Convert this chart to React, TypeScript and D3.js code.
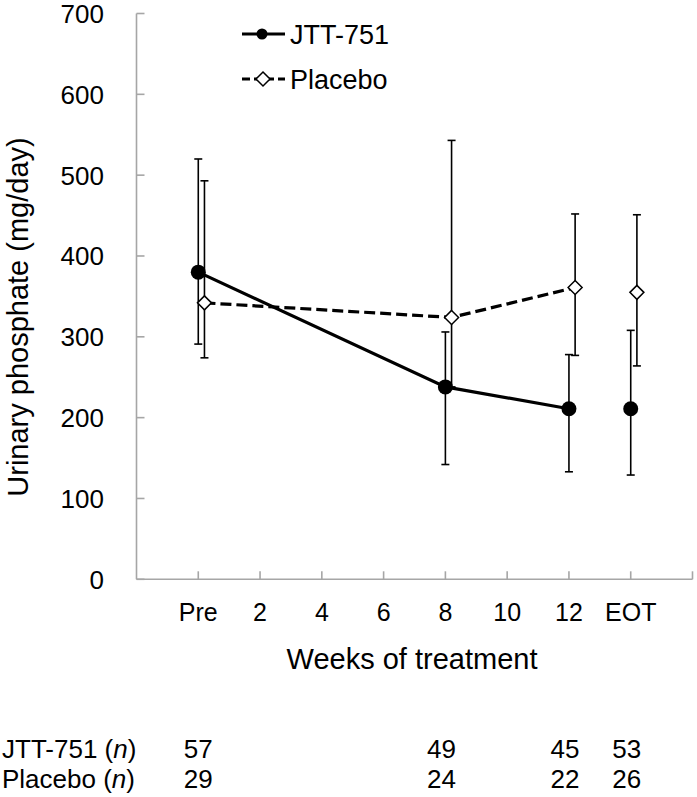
import React from "react";
import * as d3 from "d3";

// ---- data ----
const tickWeeks = [0, 2, 4, 6, 8, 10, 12, 14];
const tickLabels = ["Pre", "2", "4", "6", "8", "10", "12", "EOT"];
const yTicks = [0, 100, 200, 300, 400, 500, 600, 700];

const timeWeeks = [0, 8, 12, 14]; // Pre, 8, 12, EOT
const lineConnected = [true, true, true, false];

const jttMean = [380, 238, 211, 211];
const jttUpper = [520, 306, 278, 308];
const jttLower = [291, 142, 133, 129];

const placeboMean = [342, 324, 361, 355];
const placeboUpper = [493, 543, 452, 451];
const placeboLower = [274, 238, 277, 264];

const jttN = [57, 49, 45, 53];
const placeboN = [29, 24, 22, 26];

const FONT = "'Liberation Sans', Arial, sans-serif";

export default function App() {
  const W = 697;
  const H = 797;
  const x = d3.scaleLinear().domain([-2, 16]).range([136.5, 692.5]);
  const y = d3.scaleLinear().domain([0, 700]).range([579.3, 13.5]);
  const placeboShift = 0.2; // weeks offset so bars don't overlap

  const axisColor = "#a6a6a6";

  const lineGen = d3
    .line<number>()
    .x((d) => d[0])
    .y((d) => d[1]);

  const jttPts = timeWeeks
    .map((t, i) => [x(t), y(jttMean[i])] as [number, number])
    .filter((_, i) => lineConnected[i]);
  const plPts = timeWeeks
    .map((t, i) => [x(t + placeboShift), y(placeboMean[i])] as [number, number])
    .filter((_, i) => lineConnected[i]);

  const diamond = (cx: number, cy: number, r: number) =>
    `M${cx},${cy - r}L${cx + r},${cy}L${cx},${cy + r}L${cx - r},${cy}Z`;

  const errBar = (cx: number, lo: number, hi: number, key: string) => (
    <g key={key} stroke="#000" strokeWidth={1.6} fill="none">
      <line x1={cx} x2={cx} y1={y(hi)} y2={y(lo)} />
      <line x1={cx - 4} x2={cx + 4} y1={y(hi)} y2={y(hi)} />
      <line x1={cx - 4} x2={cx + 4} y1={y(lo)} y2={y(lo)} />
    </g>
  );

  return (
    <svg
      width={W}
      height={H}
      style={{ position: "absolute", left: 0, top: 0, background: "#fff" }}
      fontFamily={FONT}
    >
      <rect width={W} height={H} fill="#fff" />
      {/* Y axis */}
      <line x1={x(-2)} x2={x(-2)} y1={y(700)} y2={y(0)} stroke={axisColor} strokeWidth={1.6} />
      {yTicks.map((v) => (
        <g key={"yt" + v}>
          <line x1={x(-2)} x2={x(-2) + 8} y1={y(v)} y2={y(v)} stroke={axisColor} strokeWidth={1.6} />
          <text x={104} y={y(v)} dy="0.36em" textAnchor="end" fontSize={26} fill="#000">
            {v}
          </text>
        </g>
      ))}
      {/* X axis */}
      <line x1={x(-2)} x2={x(16)} y1={y(0)} y2={y(0)} stroke={axisColor} strokeWidth={1.6} />
      {[...tickWeeks, 16].map((w) => (
        <line key={"xt" + w} x1={x(w)} x2={x(w)} y1={y(0)} y2={y(0) - 8} stroke={axisColor} strokeWidth={1.6} />
      ))}
      {tickWeeks.map((w, i) => (
        <text key={"xl" + w} x={x(w)} y={620.7} textAnchor="middle" fontSize={25} fill="#000">
          {tickLabels[i]}
        </text>
      ))}
      <text x={412} y={668.5} textAnchor="middle" fontSize={29} fill="#000">
        Weeks of treatment
      </text>
      <text
        transform={`translate(28,317) rotate(-90)`}
        textAnchor="middle"
        fontSize={29}
        fill="#000"
      >
        Urinary phosphate (mg/day)
      </text>

      {/* Placebo error bars */}
      {timeWeeks.map((t, i) => errBar(x(t + placeboShift), placeboLower[i], placeboUpper[i], "pe" + i))}
      {/* JTT error bars */}
      {timeWeeks.map((t, i) => errBar(x(t), jttLower[i], jttUpper[i], "je" + i))}

      {/* Lines */}
      <path d={lineGen(plPts) || ""} fill="none" stroke="#000" strokeWidth={3.2} strokeDasharray="11,5" />
      <path d={lineGen(jttPts) || ""} fill="none" stroke="#000" strokeWidth={3.2} />

      {/* Placebo markers */}
      {timeWeeks.map((t, i) => (
        <path
          key={"pm" + i}
          d={diamond(x(t + placeboShift), y(placeboMean[i]), 7)}
          fill="#fff"
          stroke="#000"
          strokeWidth={1.5}
        />
      ))}
      {/* JTT markers */}
      {timeWeeks.map((t, i) => (
        <circle key={"jm" + i} cx={x(t)} cy={y(jttMean[i])} r={7.5} fill="#000" />
      ))}

      {/* Legend */}
      <line x1={242} x2={285} y1={34} y2={34} stroke="#000" strokeWidth={3.2} />
      <circle cx={262} cy={34} r={5.5} fill="#000" />
      <text x={290} y={34} dy="0.36em" fontSize={27} fill="#000">
        JTT-751
      </text>
      <line x1={242} x2={285} y1={79} y2={79} stroke="#000" strokeWidth={3.2} strokeDasharray="8,4" />
      <path d={diamond(263, 79, 7)} fill="#fff" stroke="#000" strokeWidth={1.5} />
      <text x={290} y={79} dy="0.36em" fontSize={27} fill="#000">
        Placebo
      </text>

      {/* n table */}
      <text x={2} y={758.3} fontSize={26} fill="#000">
        JTT-751 (<tspan fontStyle="italic">n</tspan>)
      </text>
      <text x={2} y={788.3} fontSize={26} fill="#000">
        Placebo (<tspan fontStyle="italic">n</tspan>)
      </text>
      {timeWeeks.map((t, i) => (
        <g key={"n" + i}>
          <text x={x(t) - (i > 0 ? 4 : 0)} y={758.3} textAnchor="middle" fontSize={26} fill="#000">
            {jttN[i]}
          </text>
          <text x={x(t) - (i > 0 ? 4 : 0)} y={788.3} textAnchor="middle" fontSize={26} fill="#000">
            {placeboN[i]}
          </text>
        </g>
      ))}
    </svg>
  );
}
